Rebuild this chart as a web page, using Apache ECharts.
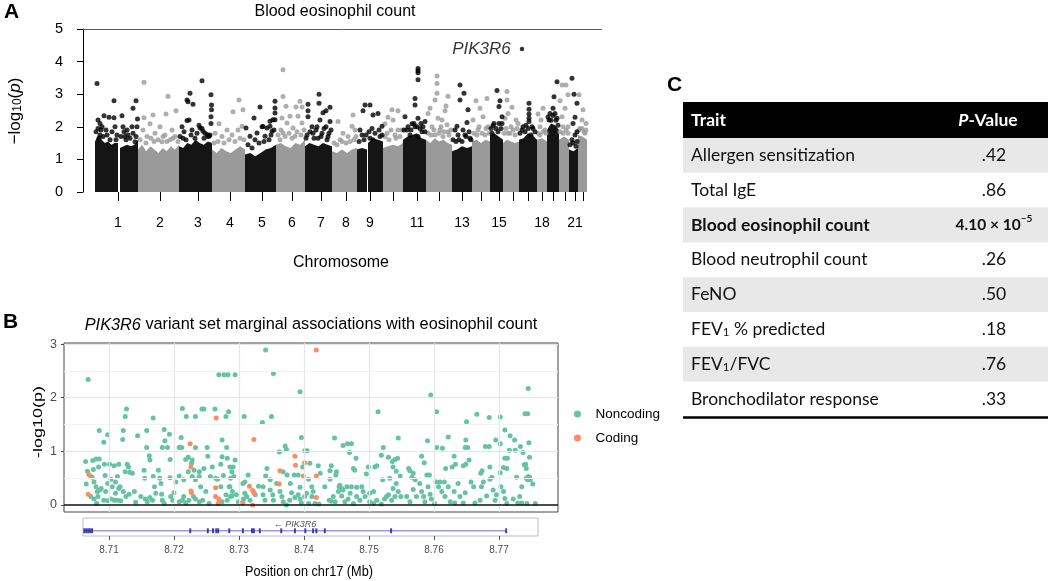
<!DOCTYPE html>
<html><head><meta charset="utf-8">
<script src="https://cdn.jsdelivr.net/npm/echarts@6/dist/echarts.min.js"></script>
<style>html,body{margin:0;padding:0;background:#fff}#c{width:1050px;height:581px}</style>
</head><body><div id="c"></div>
<script>
// ---------------- Panel A : Manhattan plot (cumulative genome index units) ----------------
const chromosomes = ['1','2','3','4','5','6','7','8','9','10','11','12','13','14','15','16','17','18','19','20','21','22'];
const chrStart = [12,55,96,129,162,193,222,249,274,300,320,343,369,389,407,420,436,454,464,476,486,495];
const chrEnd   = [55,96,129,162,193,222,249,274,300,320,343,369,389,407,420,436,454,464,476,486,495,504];
const chrTick  = [35,77,115,147,179,209,238,263,287,310,334,356,379,398,416,430,445,459,470,482,492,500];
const chrLabelled = ['1','2','3','4','5','6','7','8','9','11','13','15','18','21'];
// dense bulk of variants: segments [from, to] with sampled upper-envelope heights
const denseFrom = [12,37,55,96,129,162,193,222,249,274,285,300,320,343,369,389,407,420,436,454,464,476,486,495];
const denseTo   = [35,55,96,129,162,193,222,249,274,284,300,320,343,369,389,407,420,436,454,464,476,486,495,504];
const denseHeights = [
  [1.55,1.75,1.6,1.5,1.55,1.45,1.5,1.5],
  [1.35,1.4,1.45,1.4,1.45,1.6],
  [1.3,1.45,1.25,1.4,1.3,1.2,1.35,1.25,1.4,1.3,1.45],
  [1.4,1.35,1.5,1.45,1.6,1.5,1.45,1.55,1.5],
  [1.3,1.2,1.35,1.25,1.2,1.3,1.4,1.3],
  [1.15,1.2,1.1,1.2,1.3,1.35,1.45],
  [1.45,1.5,1.4,1.35,1.5,1.45,1.6],
  [1.4,1.5,1.45,1.4,1.5,1.45,1.4],
  [1.25,1.2,1.3,1.2,1.3,1.35],
  [1.3,1.35,1.3],
  [1.5,1.65,1.6,1.55],
  [1.35,1.4,1.45,1.4,1.5],
  [1.6,1.7,1.75,1.8,1.65,1.6],
  [1.6,1.5,1.65,1.55,1.6,1.5,1.45],
  [1.25,1.3,1.4,1.35,1.4],
  [1.55,1.6,1.5,1.6,1.55],
  [1.75,1.8,1.7,1.6],
  [1.5,1.6,1.55,1.5,1.55],
  [1.6,1.65,1.8,1.75,1.6],
  [1.6,1.65,1.55],
  [1.9,2.1,2.05,1.9],
  [1.6,1.7,1.6],
  [1.3,1.25,1.35],
  [1.75,1.7,1.6]
];
// individual variants above the bulk: [position, -log10 p]
const topHits = [
  [14,3.33],[31,2.80],[21,2.34],[26,2.29],[31,2.28],[39,2.34],[50,2.57],[53,2.80],[54.5,2.24],[15,2.21],[17,2.10],[19,2.00],[15,1.95],[23,1.90],[32,2.00],[40,2.00],[44,1.90],[49,2.00],[54,2.00],[45,1.75],[42,1.70],[34,1.75],[17,1.75],[52,1.54],
  [61,3.37],[85,2.94],[70,2.36],[61,2.28],[83,2.39],[93,2.49],[67,2.09],[77,2.00],[89,1.90],[72,1.80],[82,1.75],[60,1.90],[64,1.70],[90,1.65],[79,1.54],
  [119,3.41],[107,3.03],[104,2.82],[105,2.77],[110,2.69],[128,2.98],[128.5,2.67],[128.5,2.52],[128,2.31],[128,2.10],[106,2.21],[104,2.19],[99,2.00],[109,1.90],[119,1.95],[122,1.80],[125,1.70],[100,1.65],[117,1.96],[120,1.86],[124,1.76],[126,1.71],
  [156,2.82],[150,2.46],[160,2.52],[136,2.09],[144,1.90],[155,1.90],[159,2.02],[132,1.80],[149,1.75],[139,1.70],
  [177,2.61],[171,2.27],[163,1.96],[180,2.01],[184,1.96],[187,2.17],[190,2.22],[174,1.81],[189,1.86],[167,1.71],[182,1.71],[172,1.60],[192,2.78],[192,2.58],[192,2.42],[192,2.22],[187,2.02],[179,2.00],
  [200,3.75],[200,2.93],[203,2.63],[217,2.78],[213,2.61],[219,2.61],[207,2.32],[199,2.27],[215,2.32],[210,1.96],[204,2.12],[219,2.12],[200,1.81],[212,1.71],[197,1.60],
  [236,3.00],[236,2.72],[247,2.60],[243,2.49],[240,2.43],[225,2.69],[225,2.49],[225,2.31],[237,2.21],[234,2.00],[247,2.16],[229,2.00],[243,2.00],[230,1.80],[239,1.80],[246,1.80],[224,1.75],[235,1.65],[244,1.60],
  [270,2.36],[269,2.02],[260,1.80],[255,2.16],[265,1.70],[257,1.60],[272,1.90],
  [282,2.67],[287,2.67],[280,2.49],[277,1.90],[279,1.75],[290,2.36],[295,2.41],[299,2.02],[287,1.65],[297,1.70],[290,1.60],
  [309,2.52],[315,2.49],[305,2.29],[302,2.09],[310,2.21],[315,1.90],[304,1.80],[312,1.75],
  [335,3.79],[335,3.72],[335,3.66],[335,3.44],[332,2.87],[332,2.67],[322,2.31],[335,2.26],[329,2.09],[338,2.10],[342,2.16],[324,1.90],[332,2.00],[339,1.85],[327,1.75],[335,1.70],
  [354,3.56],[354,3.33],[354,3.03],[352,2.82],[365,2.94],[363,2.64],[362,2.49],[355,2.26],[347,2.57],[345,2.41],[359,2.21],[364,2.06],[349,2.00],[357,1.90],[365,1.85],[352,1.75],[360,1.70],
  [377,3.28],[381,3.03],[377,2.82],[385,2.52],[384,2.13],[374,2.02],[380,1.90],[372,1.90],[382,1.75],[375,1.75],[387,1.65],
  [393,2.80],[404,2.87],[397,2.57],[400,2.31],[390,2.21],[405,2.00],[395,1.90],[402,1.75],
  [414,3.11],[417,2.80],[416,2.62],[410,2.04],[419,2.31],[415,1.85],[419,2.10],[409,1.80],
  [424,3.08],[424,2.82],[429,2.60],[425,2.41],[422,2.26],[433,2.21],[428,2.00],[435,2.10],[425,1.80],
  [446,2.72],[446,2.54],[446,2.39],[446,2.26],[446,2.16],[439,1.90],[442,1.85],[450,1.95],[448,1.75],
  [455,2.39],[460,2.57],[458,2.21],[457,2.00],[462,1.90],
  [474,3.38],[471,2.92],[470,2.57],[467,2.41],[472,2.41],[466,2.21],[474,2.26],
  [479,3.28],[483,3.28],[477,2.80],[485,2.98],[482,2.57],[479,2.31],[485,2.00],[480,1.80],
  [489,3.49],[491,3.00],[494,2.72],[492,2.29],[490,2.10],[492,1.75],[489,1.60],[494,1.85],
  [496,2.98],[499,2.21],[500,2.52],[503,2.10],[497,1.95],[502,1.80]
];
// variants just above the bulk edge (ragged top of each chromosome)
const edgeHits = [
  [13,1.85],[16,1.65],[18,1.9],[20,1.7],[24,1.75],[27,1.6],[29,1.85],[33,1.6],[38,1.7],[41,1.85],[43,1.6],[47,1.65],[50,1.8],[53,1.7],
  [57,1.6],[63,1.5],[68,1.65],[71,1.55],[75,1.6],[80,1.7],[84,1.55],[87,1.6],[92,1.7],[95,1.55],
  [97,1.7],[101,1.85],[103,1.6],[108,1.75],[112,1.65],[114,1.8],[116,2.05],[121,1.65],[127,1.75],
  [131,1.5],[135,1.55],[141,1.5],[146,1.6],[152,1.55],[157,1.65],[161,1.6],
  [165,1.45],[169,1.35],[176,1.5],[181,1.55],[186,1.6],[188,1.75],[191,1.9],
  [195,1.75],[198,1.9],[202,1.7],[206,1.8],[209,1.65],[214,1.85],[218,1.75],[221,1.9],
  [223,1.65],[227,1.85],[231,1.65],[233,1.9],[238,1.7],[241,1.95],[245,1.7],[248,1.9],
  [251,1.5],[254,1.45],[259,1.55],[263,1.5],[267,1.55],[271,1.6],[273,1.7],
  [276,1.55],[281,1.6],[283,1.75],[286,1.85],[289,1.95],[292,1.8],[296,1.9],[299,1.75],
  [302,1.7],[306,1.6],[308,1.9],[313,1.65],[317,1.7],[319,1.9],
  [321,1.9],[325,2.0],[328,1.9],[331,2.1],[334,2.0],[337,1.95],[340,2.0],[342,1.85],
  [345,1.8],[348,1.75],[351,1.9],[356,1.8],[358,2.0],[361,1.85],[366,1.75],[368,1.9],
  [370,1.6],[373,1.55],[376,1.6],[379,1.55],[383,1.7],[386,1.85],[388,1.6],
  [391,1.8],[394,1.75],[396,2.0],[399,1.8],[403,1.95],[406,1.8],
  [408,1.95],[411,2.1],[413,1.95],[416,2.1],[418,1.95],
  [421,1.8],[423,1.95],[427,1.8],[430,1.9],[432,1.75],[434,1.95],
  [437,1.8],[440,2.0],[443,2.05],[445,1.95],[449,2.0],[452,1.85],
  [455,1.8],[457,1.75],[460,1.85],[463,1.8],
  [465,2.3],[468,2.2],[470,2.35],[473,2.2],[475,2.05],
  [477,1.85],[480,2.0],[483,1.9],[485,1.8],
  [487,1.45],[490,1.5],[493,1.4],[494,1.55],
  [496,1.9],[499,1.95],[501,1.85],[503,1.9]
];
const pik3r6Hit = [439, 4.39];
const significanceLine = 5;

// ---------------- Panel B : PIK3R6 variant set ----------------
const noncoding = [
  [8.7068,2.34],[8.7269,2.43],[8.7277,2.43],[8.7283,2.43],[8.7294,2.43],[8.7127,1.79],[8.7125,1.65],[8.7168,1.62],[8.7213,1.80],[8.7219,1.65],[8.7233,1.65],[8.7243,1.79],[8.7246,1.79],[8.7263,1.79],[8.7280,1.65],[8.7284,1.74],
  [8.7085,1.39],[8.7098,1.31],[8.7092,1.17],[8.7122,1.39],[8.7121,1.22],[8.7144,1.29],[8.7158,1.39],[8.7185,1.41],[8.7193,1.32],[8.7186,1.20],[8.7211,1.26],[8.7233,1.07],[8.7251,1.07],[8.7158,1.07],[8.7182,1.07],[8.7190,1.07],[8.7208,1.07],[8.7212,1.07],[8.7274,1.21],[8.7281,1.07],
  [8.7064,0.81],[8.7075,0.83],[8.7080,0.86],[8.7085,0.86],[8.7084,0.71],[8.7076,0.66],[8.7093,0.76],[8.7101,0.76],[8.7108,0.73],[8.7115,0.76],[8.7128,0.76],[8.7130,0.71],[8.7125,0.62],[8.7162,0.92],[8.7163,0.84],[8.7194,0.85],[8.7222,0.89],[8.7218,0.85],[8.7228,0.84],[8.7227,0.78],[8.7231,0.65],[8.7252,0.91],[8.7259,0.71],[8.7272,0.76],[8.7274,0.90],[8.7282,0.87],[8.7286,0.71],[8.7136,0.59],[8.7239,0.62],[8.7246,0.68],[8.7154,0.65],
  [8.7067,0.63],[8.7072,0.53],[8.7074,0.52],[8.7077,0.43],[8.7065,0.39],[8.7080,0.34],[8.7094,0.55],[8.7098,0.40],[8.7103,0.48],[8.7105,0.34],[8.7110,0.43],[8.7113,0.53],[8.7117,0.34],[8.7132,0.61],[8.7155,0.50],[8.7168,0.53],[8.7176,0.65],[8.7178,0.50],[8.7194,0.51],[8.7208,0.54],[8.7215,0.47],[8.7222,0.62],[8.7228,0.53],[8.7239,0.53],[8.7241,0.34],[8.7264,0.50],[8.7267,0.48],[8.7276,0.55],[8.7272,0.34],[8.7285,0.34],[8.7287,0.50],[8.7170,0.34],[8.7180,0.40],[8.7203,0.43],[8.7233,0.47],[8.7256,0.53],
  [8.7072,0.16],[8.7077,0.11],[8.7081,0.03],[8.7082,0.25],[8.7086,0.28],[8.7083,0.16],[8.7088,0.31],[8.7092,0.09],[8.7095,0.25],[8.7098,0.08],[8.7103,0.11],[8.7108,0.09],[8.7110,0.22],[8.7113,0.09],[8.7115,0.31],[8.7118,0.08],[8.7122,0.25],[8.7126,0.16],[8.7131,0.20],[8.7141,0.05],[8.7156,0.11],[8.7159,0.06],[8.7163,0.14],[8.7167,0.09],[8.7172,0.22],[8.7181,0.20],[8.7182,0.09],[8.7185,0.03],[8.7195,0.16],[8.7198,0.09],[8.7200,0.23],[8.7208,0.06],[8.7213,0.09],[8.7215,0.16],[8.7218,0.04],[8.7223,0.09],[8.7230,0.16],[8.7233,0.11],[8.7239,0.06],[8.7244,0.09],[8.7249,0.25],[8.7254,0.03],[8.7274,0.06],[8.7280,0.19],[8.7282,0.09],[8.7287,0.16],[8.7290,0.25],[8.7149,0.16],[8.7139,0.25],
  [8.7341,2.89],[8.7353,2.45],[8.7394,2.11],[8.7308,1.65],[8.7350,1.65],[8.7336,1.54],[8.7514,1.74],[8.7396,1.26],[8.7447,1.25],[8.7371,1.10],[8.7373,1.04],[8.7401,1.01],[8.7405,1.01],[8.7362,0.99],[8.7460,1.11],[8.7467,1.14],[8.7473,1.14],[8.7470,0.98],[8.7480,0.87],[8.7522,1.07],[8.7519,0.93],[8.7530,0.89],
  [8.7291,0.71],[8.7294,0.84],[8.7289,0.62],[8.7292,0.53],[8.7314,0.56],[8.7309,0.43],[8.7306,0.40],[8.7343,0.68],[8.7341,0.54],[8.7337,0.34],[8.7348,0.47],[8.7358,0.40],[8.7368,0.62],[8.7374,0.56],[8.7379,0.40],[8.7385,0.56],[8.7391,0.56],[8.7398,0.71],[8.7409,0.78],[8.7422,0.73],[8.7425,0.59],[8.7407,0.48],[8.7412,0.34],[8.7394,0.33],[8.7440,0.64],[8.7442,0.73],[8.7449,0.56],[8.7450,0.62],[8.7440,0.48],[8.7455,0.37],[8.7454,0.34],[8.7458,0.31],[8.7460,0.28],[8.7466,0.34],[8.7473,0.34],[8.7481,0.33],[8.7478,0.65],[8.7476,0.68],[8.7489,0.34],[8.7499,0.71],[8.7496,0.58],[8.7509,0.71],[8.7512,0.73],[8.7536,0.81],[8.7537,0.71],[8.7542,0.63],[8.7532,0.50],[8.7521,0.47],[8.7507,0.25],[8.7501,0.22],[8.7527,0.16],[8.7537,0.31],[8.7542,0.40],
  [8.7286,0.34],[8.7289,0.17],[8.7296,0.19],[8.7299,0.06],[8.7307,0.11],[8.7312,0.16],[8.7309,0.22],[8.7317,0.09],[8.7325,0.19],[8.7330,0.35],[8.7337,0.19],[8.7340,0.09],[8.7348,0.28],[8.7352,0.19],[8.7353,0.09],[8.7363,0.25],[8.7366,0.16],[8.7368,0.06],[8.7373,0.00],[8.7378,0.09],[8.7381,0.23],[8.7386,0.14],[8.7391,0.19],[8.7394,0.11],[8.7396,0.04],[8.7401,0.16],[8.7404,0.22],[8.7407,0.03],[8.7412,0.16],[8.7414,0.25],[8.7417,0.03],[8.7423,0.02],[8.7432,0.34],[8.7439,0.09],[8.7442,0.07],[8.7445,0.16],[8.7448,0.06],[8.7453,0.25],[8.7458,0.17],[8.7463,0.06],[8.7468,0.11],[8.7471,0.22],[8.7476,0.03],[8.7481,0.16],[8.7486,0.09],[8.7491,0.25],[8.7494,0.16],[8.7501,0.06],[8.7507,0.03],[8.7512,0.09],[8.7519,0.02],[8.7524,0.11],[8.7530,0.19],[8.7535,0.09],[8.7540,0.16],
  [8.7595,2.05],[8.7745,2.17],[8.7604,1.74],[8.7666,1.69],[8.7650,1.55],[8.7685,1.63],[8.7702,1.64],[8.7740,1.70],[8.7744,1.70],[8.7709,1.40],[8.7717,1.29],[8.7724,1.21],[8.7746,1.16],[8.7733,1.09],[8.7725,1.02],[8.7716,1.02],[8.7695,1.21],[8.7702,1.14],[8.7679,1.09],[8.7685,1.09],[8.7649,1.21],[8.7648,1.07],[8.7652,1.07],[8.7622,1.27],[8.7613,1.06],[8.7604,1.07],[8.7590,1.20],[8.7545,1.25],[8.7631,0.91],[8.7654,0.84],[8.7581,0.91],[8.7585,0.79],[8.7737,0.98],[8.7747,0.89],[8.7709,0.87],[8.7713,0.87],[8.7741,0.76],[8.7540,0.85],[8.7544,0.87],
  [8.7561,0.68],[8.7563,0.64],[8.7548,0.54],[8.7568,0.59],[8.7566,0.52],[8.7571,0.47],[8.7589,0.56],[8.7593,0.56],[8.7618,0.68],[8.7628,0.71],[8.7633,0.76],[8.7645,0.73],[8.7649,0.76],[8.7674,0.64],[8.7672,0.59],[8.7686,0.71],[8.7702,0.60],[8.7707,0.70],[8.7712,0.68],[8.7727,0.52],[8.7739,0.75],[8.7742,0.68],[8.7742,0.50],[8.7745,0.53],[8.7748,0.47],[8.7744,0.47],[8.7747,0.52],[8.7752,0.39],[8.7735,0.34],
  [8.7545,0.25],[8.7549,0.16],[8.7558,0.16],[8.7563,0.06],[8.7568,0.29],[8.7573,0.16],[8.7578,0.40],[8.7581,0.25],[8.7584,0.16],[8.7586,0.06],[8.7591,0.34],[8.7594,0.20],[8.7596,0.11],[8.7601,0.03],[8.7603,0.43],[8.7607,0.34],[8.7609,0.43],[8.7612,0.25],[8.7616,0.43],[8.7617,0.16],[8.7622,0.34],[8.7625,0.06],[8.7631,0.25],[8.7632,0.04],[8.7637,0.40],[8.7640,0.16],[8.7645,0.04],[8.7648,0.23],[8.7657,0.43],[8.7661,0.34],[8.7663,0.04],[8.7671,0.09],[8.7673,0.34],[8.7676,0.43],[8.7681,0.17],[8.7686,0.48],[8.7689,0.52],[8.7691,0.28],[8.7694,0.09],[8.7696,0.19],[8.7703,0.34],[8.7707,0.25],[8.7709,0.12],[8.7712,0.03],[8.7722,0.11],[8.7729,0.04],[8.7732,0.16],[8.7735,0.04],[8.7743,0.03],[8.7756,0.03]
];
const coding = [
  [8.7068,0.20],[8.7069,0.57],[8.7225,1.14],[8.7226,0.71],[8.7226,0.26],[8.7227,0.23],[8.7265,1.62],[8.7264,0.32],[8.7264,0.16],[8.7269,0.11],[8.7268,0.03],
  [8.7419,2.89],[8.7323,1.22],[8.7386,0.91],[8.7387,0.74],[8.7401,0.79],[8.7399,0.54],[8.7363,0.64],[8.7362,0.39],[8.7316,0.35],[8.7321,0.27],[8.7323,0.23],[8.7306,0.04],[8.7321,0.00],[8.7419,0.54],[8.7419,0.14]
];
const bGridX = [8.70377,8.71369,8.72362,8.73354,8.74346,8.75338,8.76331,8.77323];
const bGridYMajor = [1,2,3];
const bGridYMinor = [0.5,1.5,2.5];
const bYTicks = [0,1,2,3];
const geneSpan = [8.7061, 8.7711];
const exonPos = [8.7062,8.7065,8.7068,8.7071,8.7074,8.7225,8.7252,8.7260,8.7265,8.7268,8.7285,8.7306,8.7320,8.7323,8.7332,8.7365,8.7386,8.7402,8.7414,8.7419,8.7432,8.7534,8.7711];
const geneLabelPos = [8.7386];
const positionTicks = [8.71,8.72,8.73,8.74,8.75,8.76,8.77];

// ---------------- Panel C : table ----------------
const tableTraits = ['Allergen sensitization','Total IgE','Blood eosinophil count','Blood neutrophil count','FeNO','FEV{s|1} % predicted','FEV{s|1}/FVC','Bronchodilator response'];
const tablePValues = ['.42','.86','4.10 × 10{e|−5}','.26','.50','.18','.76','.33'];
const tableBoldRow = 2;

// ================= build =================
const SANS = '"Liberation Sans", Arial, Helvetica, sans-serif';
const TFONT = 'Lato, "Open Sans", sans-serif';
const BLACK = '#151515', GRAY = '#9a9a9a';
function chrIndexOf(pos){ for(let i=0;i<chrStart.length;i++){ if(pos>=chrStart[i] && pos<chrEnd[i]) return i; } return chrStart.length-1; }

const series = [];
denseFrom.forEach((f,k)=>{
  const h = denseHeights[k], t = denseTo[k], n = h.length;
  const ci = chrIndexOf(f+0.1);
  series.push({
    type:'line', xAxisIndex:0, yAxisIndex:0, silent:true, symbol:'none', z:1,
    data: h.map((v,i)=>[f + (t-f)*i/(n-1), v]),
    lineStyle:{width:0}, areaStyle:{color: ci%2===0?BLACK:GRAY, opacity:1}
  });
});
const allHits = topHits.concat(edgeHits);
const hitsBlack = allHits.filter(p=>chrIndexOf(p[0])%2===0);
const hitsGray = allHits.filter(p=>chrIndexOf(p[0])%2===1);
series.push({type:'scatter', xAxisIndex:0, yAxisIndex:0, silent:true, z:3, symbolSize:5, data:hitsGray, itemStyle:{color:GRAY}});
series.push({type:'scatter', xAxisIndex:0, yAxisIndex:0, silent:true, z:3, symbolSize:5, data:hitsBlack, itemStyle:{color:'#000'}});
series.push({type:'scatter', xAxisIndex:0, yAxisIndex:0, silent:true, z:4, symbolSize:4.5, data:[pik3r6Hit], itemStyle:{color:'#000'},
  label:{show:true, position:'left', distance:9, formatter:'PIK3R6', fontStyle:'italic', fontSize:17, color:'#000', fontFamily:SANS},
  markLine:{silent:true, symbol:['none','none'], label:{show:false}, lineStyle:{color:'#3f4fe0', width:1, type:'solid'}, data:[{yAxis:significanceLine}]}
});
// panel B grid lines
series.push({type:'line', xAxisIndex:1, yAxisIndex:1, silent:true, z:1, data:[], markLine:{silent:true, symbol:['none','none'], label:{show:false}, animation:false,
  data: bGridYMinor.map(v=>({yAxis:v, lineStyle:{color:'#f3f3f3', width:1, type:'solid'}}))
    .concat(bGridYMajor.map(v=>({yAxis:v, lineStyle:{color:'#e6e6e6', width:1.2, type:'solid'}})))
    .concat(bGridX.map(v=>({xAxis:v, lineStyle:{color:'#e6e6e6', width:1.2, type:'solid'}})))
}});
series.push({type:'line', xAxisIndex:1, yAxisIndex:1, silent:true, z:2, data:[], markLine:{silent:true, symbol:['none','none'], label:{show:false}, animation:false,
  data:[{yAxis:0, lineStyle:{color:'#111', width:1.5, type:'solid'}}]}});
series.push({name:'Noncoding', type:'scatter', xAxisIndex:1, yAxisIndex:1, z:3, symbolSize:5, data:noncoding, itemStyle:{color:'#66c2a5', opacity:1}});
series.push({name:'Coding', type:'scatter', xAxisIndex:1, yAxisIndex:1, z:4, symbolSize:5, data:coding, itemStyle:{color:'#fc8d62', opacity:1}});
// gene track
series.push({type:'line', xAxisIndex:2, yAxisIndex:2, silent:true, z:2, symbol:'none', data:[[geneSpan[0],0.29],[geneSpan[1],0.29]], lineStyle:{color:'#9b9be6', width:1.5}});
series.push({type:'scatter', xAxisIndex:2, yAxisIndex:2, silent:true, z:3, symbol:'rect', symbolSize:[2,5], data:exonPos.map(p=>[p,0.29]), itemStyle:{color:'#1a1a8f'}});
series.push({type:'scatter', xAxisIndex:2, yAxisIndex:2, silent:true, z:3, symbolSize:0, data:geneLabelPos.map(p=>[p,0.64]),
  label:{show:true, position:'inside', formatter:'← PIK3R6', fontStyle:'italic', fontSize:9, color:'#222', fontFamily:SANS}});

// graphics: panel letters, titles, axis titles, table
const graphics = [];
function txt(x,y,text,opts){ graphics.push(Object.assign({type:'text', x:x, y:y, silent:true, style:Object.assign({text:text, fill:'#000', fontFamily:SANS, fontSize:16, align:'center', verticalAlign:'middle', textAlign:'center', textVerticalAlign:'middle'}, opts.style||{})}, opts.el||{})); }
txt(4,12,'A',{style:{fontSize:21, fontWeight:'bold', align:'left', textAlign:'left'}});
txt(335,12,'Blood eosinophil count',{style:{fontSize:16}});
txt(15,111,'−log{s|10}({i|p})',{el:{rotation:Math.PI/2}, style:{fontSize:17, rich:{s:{fontSize:12, fontFamily:SANS, verticalAlign:'bottom', lineHeight:12}, i:{fontSize:17, fontStyle:'italic', fontFamily:SANS}}}});
txt(341,263,'Chromosome',{style:{fontSize:16}});
txt(3,322,'B',{style:{fontSize:21, fontWeight:'bold', align:'left', textAlign:'left'}});
txt(311,325,'{i|PIK3R6} variant set marginal associations with eosinophil count',{style:{fontSize:16.3, rich:{i:{fontStyle:'italic', fontSize:16.3, fontFamily:SANS}}}});
txt(38,422,'-log10(p)',{el:{rotation:Math.PI/2, scaleY:0.72}, style:{fontSize:18}});
txt(309,572,'Position on chr17 (Mb)',{el:{scaleX:0.82}, style:{fontSize:15.5}});
txt(667,85,'C',{style:{fontSize:21, fontWeight:'bold', align:'left', textAlign:'left'}});
// table
const tL = 683, tW = 365, hTop = 102, hH = 36, rowH = 34.8, valX = 994, trX = 691, fs = 17.5;
graphics.push({type:'rect', silent:true, shape:{x:tL, y:hTop, width:tW, height:hH}, style:{fill:'#000'}});
txt(trX, hTop+hH/2, 'Trait', {style:{fill:'#fff', fontSize:fs, fontWeight:'bold', fontFamily:TFONT, align:'left', textAlign:'left'}});
txt(988, hTop+hH/2, '{bi|P}-Value', {style:{fill:'#fff', fontSize:fs, fontWeight:'bold', fontFamily:TFONT, rich:{bi:{fontStyle:'italic', fontWeight:'bold', fontSize:fs, fontFamily:TFONT, fill:'#fff', color:'#fff'}}}});
tableTraits.forEach((t,i)=>{
  const y0 = hTop + hH + i*rowH;
  if(i%2===0) graphics.push({type:'rect', silent:true, shape:{x:tL, y:y0, width:tW, height:rowH}, style:{fill:'#e8e8e8'}});
  const bold = i===tableBoldRow ? 'bold' : 'normal';
  txt(trX, y0+rowH/2, t, {style:{fontSize:fs, fontWeight:bold, fontFamily:TFONT, align:'left', textAlign:'left', fill:'#111',
    rich:{s:{fontSize:11.5, fontWeight:bold, fontFamily:TFONT, verticalAlign:'bottom', lineHeight:10, fill:'#111'}}}});
  txt(valX, y0+rowH/2, tablePValues[i], {style:{fontSize: i===tableBoldRow?15.5:fs, fontWeight:bold, fontFamily:TFONT, fill:'#111',
    rich:{e:{fontSize:10, fontWeight:bold, fontFamily:TFONT, verticalAlign:'top', lineHeight:22, fill:'#111'}}}});
});
graphics.push({type:'line', silent:true, shape:{x1:tL, y1:hTop+hH+8*rowH+1, x2:tL+tW, y2:hTop+hH+8*rowH+1}, style:{stroke:'#000', lineWidth:2.5}});

const option = {
  animation:false,
  backgroundColor:'#fff',
  textStyle:{fontFamily:SANS},
  legend:{data:['Noncoding','Coding'], orient:'vertical', left:569, top:402, itemWidth:26, itemHeight:7, itemGap:10, icon:'circle',
    textStyle:{fontSize:13.5, color:'#000', fontFamily:SANS, lineHeight:14}, selectedMode:false},
  grid:[
    {left:83, top:29, width:519, height:163, outerBoundsMode:'none'},
    {left:64, top:343, width:494, height:169, show:true, borderColor:'#444', borderWidth:1, backgroundColor:'#fff', outerBoundsMode:'none'},
    {left:83, top:518, width:455, height:18, show:true, borderColor:'#bdbdbd', borderWidth:1, backgroundColor:'#fff', outerBoundsMode:'none'}
  ],
  xAxis:[
    {gridIndex:0, type:'value', min:0, max:519, axisLine:{show:false}, splitLine:{show:false},
      axisTick:{show:true, customValues:chrTick, length:9, lineStyle:{color:'#000', width:1}},
      axisLabel:{show:true, customValues:chrTick.filter((v,i)=>chrLabelled.indexOf(chromosomes[i])>=0), margin:24, fontSize:14, color:'#000', fontFamily:SANS,
        formatter:v=>chromosomes[chrTick.indexOf(v)]}},
    {gridIndex:1, type:'value', min:8.70308, max:8.77908, show:false, axisLine:{show:false}, axisTick:{show:false}, axisLabel:{show:false}, splitLine:{show:false}},
    {gridIndex:2, type:'value', min:8.706, max:8.776, axisLine:{show:false}, splitLine:{show:false},
      axisTick:{show:true, customValues:positionTicks, length:4, lineStyle:{color:'#555'}},
      axisLabel:{show:true, customValues:positionTicks, margin:9, fontSize:10, color:'#4d4d4d', fontFamily:SANS, formatter:v=>v.toFixed(2)}}
  ],
  yAxis:[
    {gridIndex:0, type:'value', min:0, max:5, interval:1, splitLine:{show:false},
      axisLine:{show:true, lineStyle:{color:'#000', width:1}},
      axisTick:{show:true, length:6, lineStyle:{color:'#000'}},
      axisLabel:{margin:20, fontSize:14.5, color:'#000', fontFamily:SANS}},
    {gridIndex:1, type:'value', min:-0.13, max:3.02, splitLine:{show:false}, axisLine:{show:false},
      axisTick:{show:true, customValues:bYTicks, length:3, lineStyle:{color:'#444'}},
      axisLabel:{show:true, customValues:bYTicks, margin:7, fontSize:12.5, color:'#4d4d4d', fontFamily:SANS}},
    {gridIndex:2, type:'value', min:0, max:1, show:false, splitLine:{show:false}}
  ],
  series: series,
  graphic: graphics
};
const chart = echarts.init(document.getElementById('c'), null, {renderer:'canvas'});
chart.setOption(option);
</script>
</body></html>
